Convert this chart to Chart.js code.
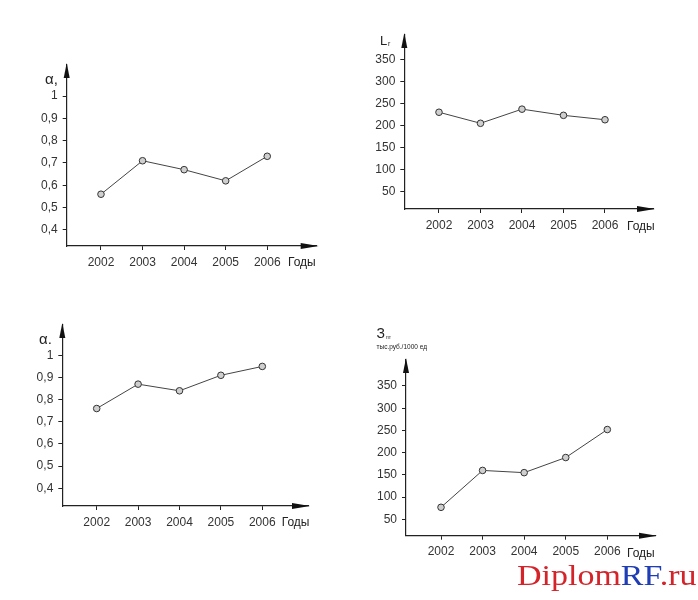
<!DOCTYPE html>
<html>
<head>
<meta charset="utf-8">
<script src="https://cdn.jsdelivr.net/npm/chart.js@4.4.1/dist/chart.umd.min.js"></script>
<style>
  body { margin: 0; background: #fff; }
  #page { position: relative; width: 698px; height: 600px; overflow: hidden; }
  canvas { position: absolute; }
  #mark { position: absolute; left: 517px; top: 560px; font: 30px/30px "Liberation Serif", "Times New Roman", serif;
          color: #d5232a; transform-origin: 0 0; white-space: nowrap; }
  #mark span { color: #1f3db5; }
</style>
</head>
<body>
<div id="page">
  <canvas id="c1" width="349" height="300" style="left:0;top:0"></canvas>
  <canvas id="c2" width="349" height="300" style="left:349px;top:0"></canvas>
  <canvas id="c3" width="349" height="300" style="left:0;top:300px"></canvas>
  <canvas id="c4" width="349" height="300" style="left:349px;top:300px"></canvas>
  <div id="mark">Diplom<span>RF</span>.ru</div>
</div>
<script>
// данные
const years = [2002, 2003, 2004, 2005, 2006];
const alphaTop = [0.56, 0.71, 0.67, 0.62, 0.73];
const lValues = [230, 205, 237, 223, 213];
const alphaBottom = [0.76, 0.87, 0.84, 0.91, 0.95];
const zValues = [77, 160, 155, 189, 252];
const alphaTicks = [0.4, 0.5, 0.6, 0.7, 0.8, 0.9, 1];
const rubTicks = [50, 100, 150, 200, 250, 300, 350];

const FONT = "'Liberation Sans', Arial, sans-serif";

// стрелки на концах осей + подписи
const axisExtras = {
    id: "axisExtras",
    afterDraw(chart, args, opts) {
        const c = chart.ctx;
        const a = chart.chartArea;
        c.save();
        c.fillStyle = "#111";
        c.beginPath();
        c.moveTo(a.left, a.top - 2);
        c.lineTo(a.left - 3, a.top + 13);
        c.lineTo(a.left + 3, a.top + 13);
        c.closePath();
        c.fill();
        c.beginPath();
        c.moveTo(a.right + 2, a.bottom);
        c.lineTo(a.right - 16, a.bottom - 3);
        c.lineTo(a.right - 16, a.bottom + 3);
        c.closePath();
        c.fill();
        c.fillStyle = "#222";
        c.textBaseline = "alphabetic";
        c.textAlign = "left";
        for (const t of opts.texts) {
            c.font = t.size + "px " + FONT;
            c.fillText(t.text, t.x - opts.ox, t.y - opts.oy);
        }
        c.restore();
    }
};

function makeChart(id, values, yTicks, o) {
    let points = years.map((y, i) => ({ x: y, y: values[i] }));
    return new Chart(document.getElementById(id).getContext("2d"), {
        type: "line",
        data: {
            datasets: [{
                data: points,
                borderColor: "#444",
                borderWidth: 1,
                tension: 0,
                pointRadius: 3.3,
                pointBackgroundColor: "#cfcfcf",
                pointBorderColor: "#333",
                pointBorderWidth: 1,
                clip: false,
            }],
        },
        options: {
            responsive: false,
            animation: false,
            layout: { padding: o.pad },
            plugins: {
                legend: { display: false },
                tooltip: { enabled: false },
                axisExtras: { texts: o.texts, ox: o.ox, oy: o.oy },
            },
            scales: {
                x: {
                    type: "linear",
                    min: o.xmin,
                    max: o.xmax,
                    afterBuildTicks: (s) => { s.ticks = years.map(v => ({ value: v })); },
                    afterFit: (s) => { s.height = 30; },
                    border: { display: true, color: "#222", width: 1.2 },
                    grid: { drawOnChartArea: false, tickLength: 4, color: "#222" },
                    ticks: { padding: 5, color: "#333", font: { family: FONT, size: 12 },
                             callback: (v) => String(v), maxRotation: 0 },
                },
                y: {
                    min: o.ymin,
                    max: o.ymax,
                    afterBuildTicks: (s) => { s.ticks = yTicks.map(v => ({ value: v })); },
                    afterFit: (s) => { s.width = 40; },
                    border: { display: true, color: "#222", width: 1.2 },
                    grid: { drawOnChartArea: false, tickLength: 4, color: "#222" },
                    ticks: { padding: 5, color: "#333", font: { family: FONT, size: 12 },
                             callback: (v) => String(v).replace(".", ",") },
                },
            },
        },
        plugins: [axisExtras],
    });
}

makeChart("c1", alphaTop, alphaTicks, {
    ox: 0, oy: 0,
    pad: { left: 26.7, top: 65, right: 32.3, bottom: 24 },
    xmin: 2001.175, xmax: 2007.19, ymin: 0.328, ymax: 1.139,
    texts: [
        { text: "α,", x: 45, y: 84, size: 15 },
        { text: "Годы", x: 288, y: 266, size: 12 },
    ],
});

makeChart("c2", lValues, rubTicks, {
    ox: 349, oy: 0,
    pad: { left: 15.3, top: 35, right: 45, bottom: 61 },
    xmin: 2001.164, xmax: 2007.157, ymin: 10.8, ymax: 405,
    texts: [
        { text: "L", x: 380, y: 45, size: 13 },
        { text: "r", x: 388, y: 46, size: 7 },
        { text: "Годы", x: 627, y: 230, size: 12 },
    ],
});

makeChart("c3", alphaBottom, alphaTicks, {
    ox: 0, oy: 300,
    pad: { left: 22.3, top: 25, right: 41, bottom: 64 },
    xmin: 2001.169, xmax: 2007.104, ymin: 0.32, ymax: 1.137,
    texts: [
        { text: "α.", x: 39, y: 344, size: 15 },
        { text: "Годы", x: 281.7, y: 526, size: 12 },
    ],
});

makeChart("c4", zValues, rubTicks, {
    ox: 349, oy: 300,
    pad: { left: 17, top: 60, right: 43, bottom: 34.3 },
    xmin: 2001.158, xmax: 2007.147, ymin: 13.1, ymax: 408.5,
    texts: [
        { text: "З", x: 376.5, y: 338, size: 14 },
        { text: "пт", x: 386, y: 339, size: 5 },
        { text: "тыс.руб./1000 ед", x: 376.5, y: 349, size: 6.5 },
        { text: "Годы", x: 627, y: 556.5, size: 12 },
    ],
});

// водяной знак: растягиваем до ширины оригинала
let mark = document.getElementById("mark");
mark.style.transform = "scale(" + (179 / mark.offsetWidth) + ", 1)";
</script>
</body>
</html>
